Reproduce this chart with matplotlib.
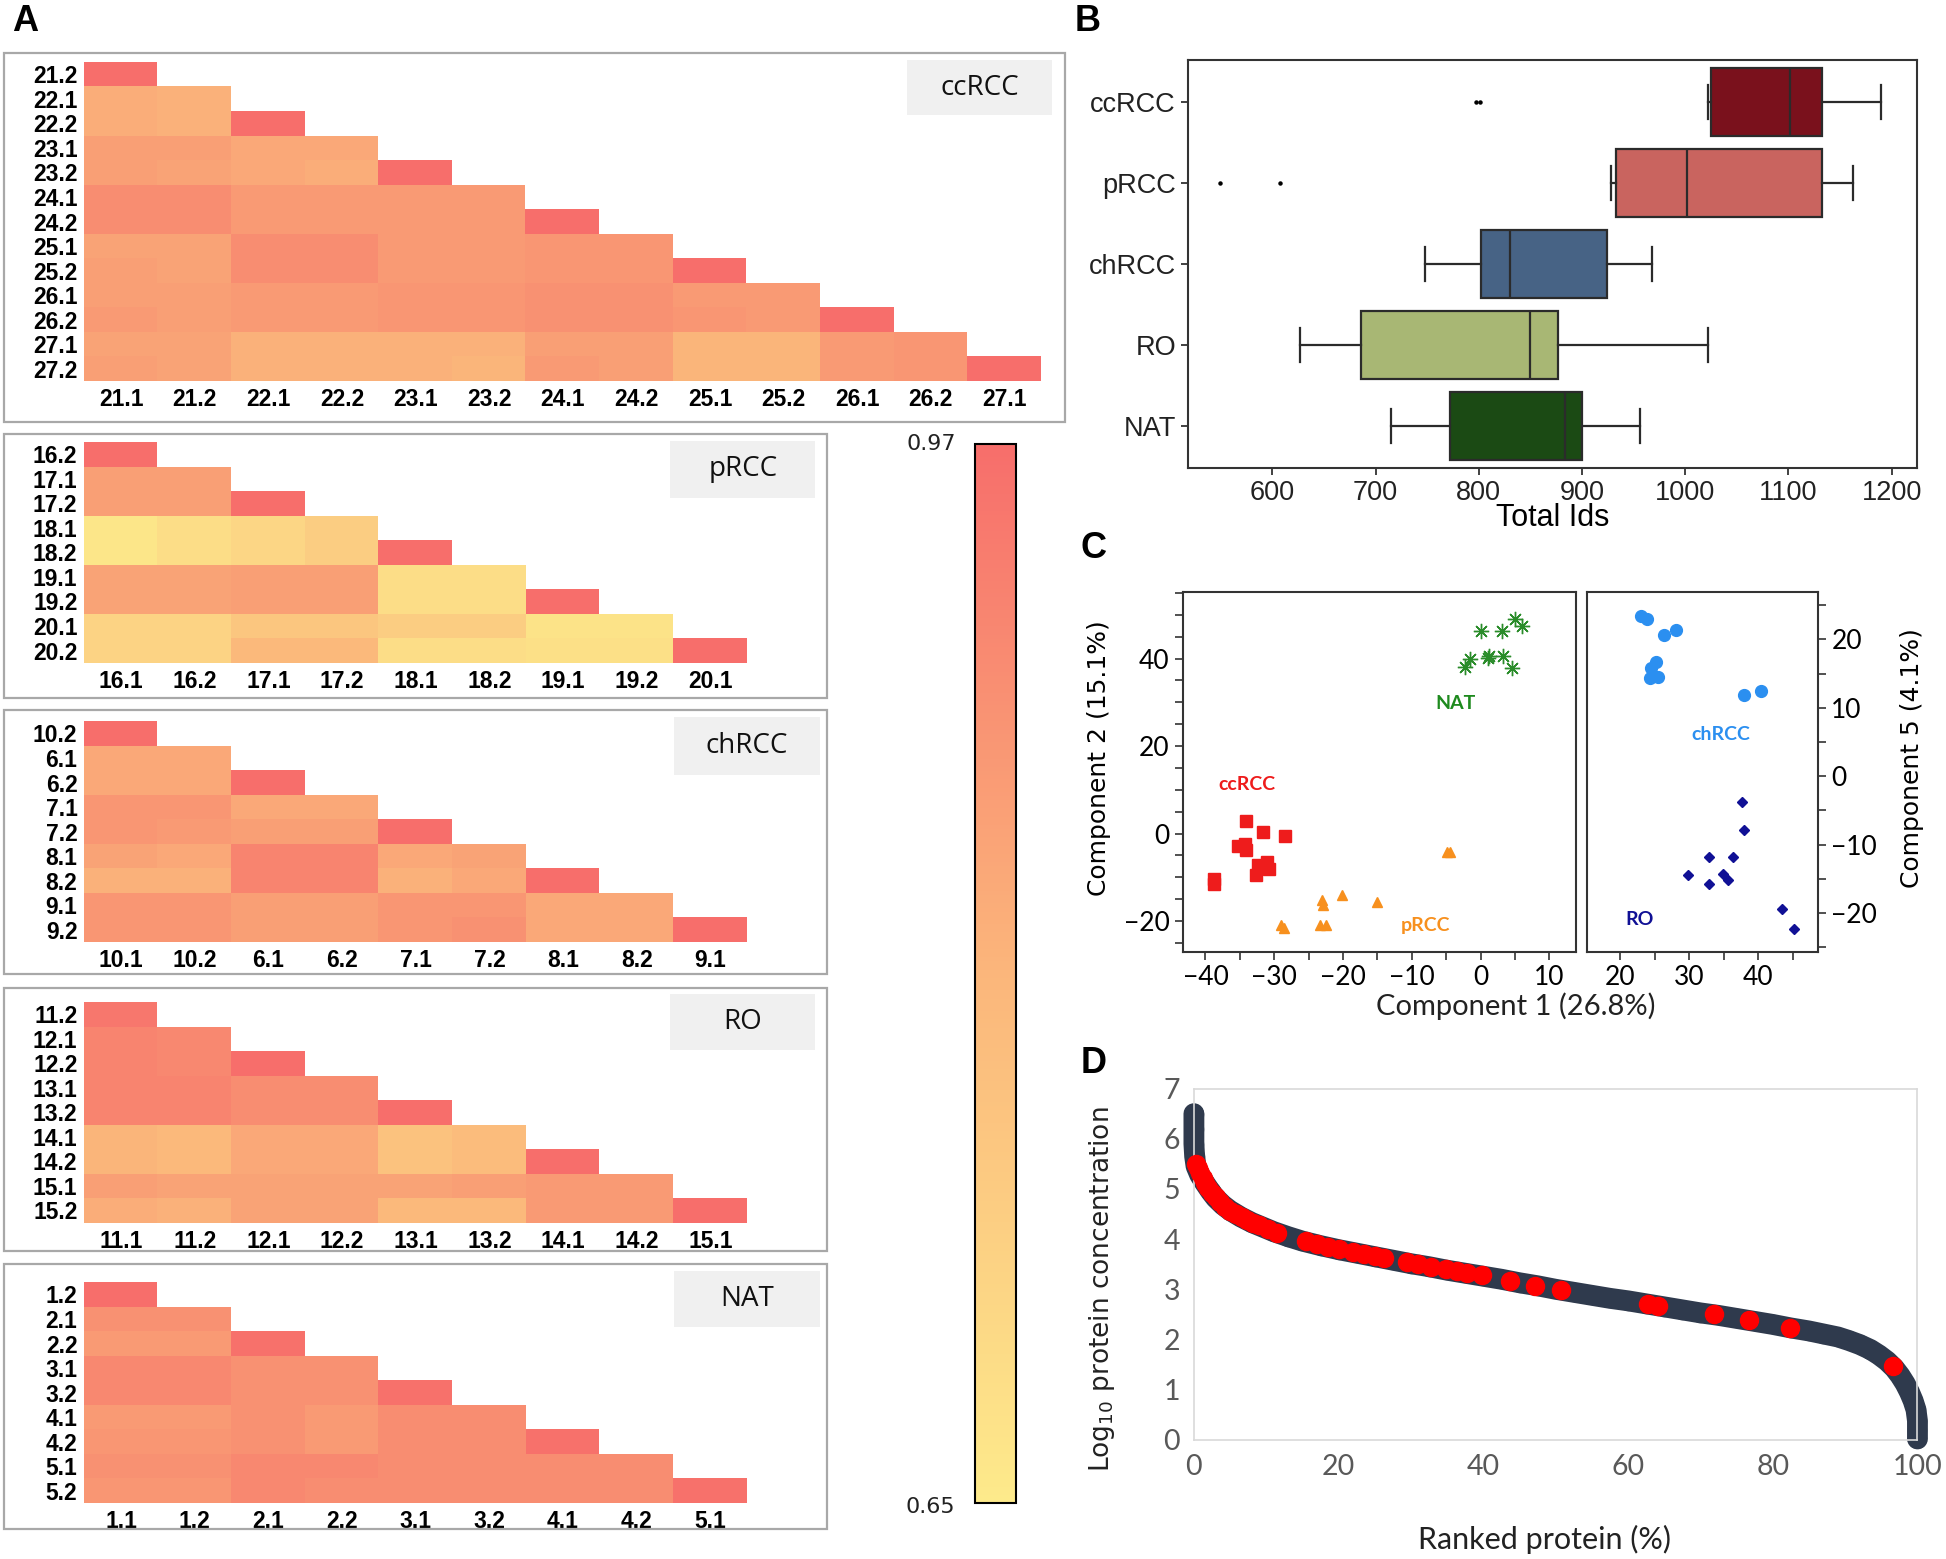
import numpy as np
import matplotlib.pyplot as plt
from matplotlib.colors import LinearSegmentedColormap, Normalize
from matplotlib.patches import Rectangle
from matplotlib.cm import ScalarMappable
from matplotlib.ticker import MultipleLocator

# ---------------- panel A: replicate correlation heatmaps ----------------
cc_rows = ["21.2", "22.1", "22.2", "23.1", "23.2", "24.1", "24.2",
           "25.1", "25.2", "26.1", "26.2", "27.1", "27.2"]
cc_cols = ["21.1", "21.2", "22.1", "22.2", "23.1", "23.2", "24.1",
           "24.2", "25.1", "25.2", "26.1", "26.2", "27.1"]
cc_vals = [
    [0.97],
    [0.83, 0.82],
    [0.83, 0.82, 0.97],
    [0.86, 0.86, 0.84, 0.84],
    [0.86, 0.85, 0.84, 0.83, 0.97],
    [0.90, 0.90, 0.87, 0.87, 0.87, 0.87],
    [0.90, 0.90, 0.87, 0.87, 0.87, 0.87, 0.97],
    [0.85, 0.85, 0.90, 0.90, 0.87, 0.87, 0.88, 0.88],
    [0.86, 0.85, 0.90, 0.90, 0.87, 0.87, 0.88, 0.88, 0.97],
    [0.86, 0.86, 0.87, 0.87, 0.88, 0.88, 0.89, 0.89, 0.87, 0.87],
    [0.87, 0.86, 0.87, 0.87, 0.88, 0.88, 0.89, 0.89, 0.88, 0.87, 0.97],
    [0.85, 0.85, 0.82, 0.82, 0.82, 0.82, 0.86, 0.86, 0.81, 0.81, 0.87, 0.88],
    [0.86, 0.85, 0.82, 0.82, 0.82, 0.81, 0.87, 0.86, 0.81, 0.81, 0.87, 0.88, 0.97],
]

p_rows = ["16.2", "17.1", "17.2", "18.1", "18.2", "19.1", "19.2", "20.1", "20.2"]
p_cols = ["16.1", "16.2", "17.1", "17.2", "18.1", "18.2", "19.1", "19.2", "20.1"]
p_vals = [
    [0.97],
    [0.86, 0.86],
    [0.86, 0.86, 0.97],
    [0.66, 0.69, 0.71, 0.74],
    [0.66, 0.69, 0.71, 0.74, 0.97],
    [0.85, 0.85, 0.86, 0.86, 0.69, 0.69],
    [0.85, 0.85, 0.86, 0.86, 0.69, 0.69, 0.97],
    [0.72, 0.72, 0.76, 0.76, 0.74, 0.74, 0.67, 0.67],
    [0.72, 0.72, 0.80, 0.80, 0.69, 0.69, 0.68, 0.68, 0.97],
]

ch_rows = ["10.2", "6.1", "6.2", "7.1", "7.2", "8.1", "8.2", "9.1", "9.2"]
ch_cols = ["10.1", "10.2", "6.1", "6.2", "7.1", "7.2", "8.1", "8.2", "9.1"]
ch_vals = [
    [0.97],
    [0.84, 0.84],
    [0.84, 0.84, 0.97],
    [0.88, 0.88, 0.84, 0.84],
    [0.88, 0.87, 0.86, 0.86, 0.97],
    [0.85, 0.84, 0.92, 0.92, 0.84, 0.85],
    [0.82, 0.82, 0.92, 0.92, 0.82, 0.84, 0.97],
    [0.88, 0.88, 0.86, 0.86, 0.88, 0.88, 0.84, 0.84],
    [0.88, 0.88, 0.86, 0.86, 0.88, 0.89, 0.84, 0.84, 0.97],
]

ro_rows = ["11.2", "12.1", "12.2", "13.1", "13.2", "14.1", "14.2", "15.1", "15.2"]
ro_cols = ["11.1", "11.2", "12.1", "12.2", "13.1", "13.2", "14.1", "14.2", "15.1"]
ro_vals = [
    [0.95],
    [0.92, 0.91],
    [0.92, 0.91, 0.97],
    [0.92, 0.92, 0.90, 0.90],
    [0.92, 0.92, 0.90, 0.90, 0.97],
    [0.81, 0.80, 0.84, 0.84, 0.77, 0.79],
    [0.81, 0.80, 0.84, 0.84, 0.77, 0.79, 0.97],
    [0.86, 0.85, 0.85, 0.85, 0.85, 0.86, 0.87, 0.87],
    [0.83, 0.82, 0.85, 0.85, 0.80, 0.80, 0.87, 0.87, 0.97],
]

nat_rows = ["1.2", "2.1", "2.2", "3.1", "3.2", "4.1", "4.2", "5.1", "5.2"]
nat_cols = ["1.1", "1.2", "2.1", "2.2", "3.1", "3.2", "4.1", "4.2", "5.1"]
nat_vals = [
    [0.97],
    [0.89, 0.89],
    [0.87, 0.87, 0.96],
    [0.91, 0.91, 0.89, 0.89],
    [0.91, 0.91, 0.89, 0.89, 0.96],
    [0.87, 0.87, 0.89, 0.87, 0.90, 0.90],
    [0.88, 0.88, 0.89, 0.87, 0.90, 0.90, 0.96],
    [0.89, 0.89, 0.91, 0.91, 0.90, 0.90, 0.90, 0.90],
    [0.88, 0.88, 0.91, 0.90, 0.90, 0.90, 0.90, 0.90, 0.96],
]
cbar_min, cbar_max = 0.65, 0.97

# ---------------- panel B: total IDs per group ----------------
b_groups = ["ccRCC", "pRCC", "chRCC", "RO", "NAT"]
b_whislo = [1022, 928, 748, 627, 715]
b_q1 = [1025, 933, 802, 686, 772]
b_med = [1102, 1002, 830, 850, 884]
b_q3 = [1133, 1133, 924, 877, 900]
b_whishi = [1190, 1163, 968, 1022, 956]
b_fliers = [[797, 801], [549, 607], [], [], []]
b_colors = ["#7A111C", "#C9645F", "#476385", "#A8B774", "#1B4A14"]

# ---------------- panel C: PCA scores ----------------
cc_x = [-34.1, -31.7, -28.4, -35.2, -34.2, -34.1, -32.4, -31.1, -30.8, -32.7, -38.8, -38.8]
cc_y = [2.8, 0.3, -0.6, -2.9, -2.4, -3.7, -7.1, -6.5, -8.1, -9.6, -10.4, -11.6]
pr_x = [-4.9, -4.4, -20.2, -23.1, -22.9, -15.1, -29.0, -28.6, -23.3, -22.5]
pr_y = [-4.3, -4.3, -14.0, -15.2, -16.4, -15.6, -20.9, -21.7, -20.9, -20.9]
na_x = [0.0, 3.1, 5.0, 6.0, -1.6, -2.2, 1.1, 1.3, 3.2, 4.6]
na_y = [46.3, 46.2, 49.0, 47.5, 40.0, 38.1, 40.2, 40.6, 40.5, 37.8]
chc_x = [23.0, 23.9, 26.3, 28.1, 25.2, 24.4, 24.3, 25.5, 38.0, 40.4]
chc_y = [23.4, 23.0, 20.7, 21.4, 16.7, 15.8, 14.3, 14.5, 11.9, 12.4]
roc_x = [37.6, 38.0, 32.9, 36.3, 29.8, 34.9, 32.9, 35.6, 43.4, 45.2]
roc_y = [-3.8, -7.9, -11.8, -11.8, -14.4, -14.3, -15.7, -15.2, -19.4, -22.3]

# ---------------- panel D: ranked protein concentration ----------------
all_x = [0, 0, 0, 0.1, 0.3, 0.8, 1.5, 2.3, 3.0, 4.0, 5.0, 6.5, 8.0, 9.5, 11, 13, 15,
         17.5, 20, 22.5, 25, 27.5, 30, 32.5, 35, 37.5, 40, 42.5, 45, 47.5, 50, 52.5,
         55, 57.5, 60, 62.5, 65, 67.5, 70, 72.5, 75, 77.5, 80, 82.5, 85, 87, 89,
         90.5, 92, 93.5, 94.7, 95.8, 96.8, 97.6, 98.3, 98.9, 99.4, 99.8, 100, 100, 100]
all_y = [6.5, 6.2, 5.9, 5.65, 5.45, 5.28, 5.12, 4.95, 4.82, 4.68, 4.57, 4.44, 4.33,
         4.24, 4.15, 4.05, 3.96, 3.87, 3.79, 3.72, 3.65, 3.58, 3.51, 3.45, 3.38, 3.32,
         3.26, 3.2, 3.13, 3.07, 3.0, 2.94, 2.88, 2.82, 2.77, 2.71, 2.65, 2.59, 2.53,
         2.48, 2.42, 2.36, 2.3, 2.23, 2.17, 2.11, 2.05, 1.98, 1.9, 1.8, 1.69, 1.57,
         1.43, 1.28, 1.12, 0.95, 0.78, 0.6, 0.38, 0.2, 0.02]
red_x = [0.3, 0.5, 0.8, 1.2, 1.6, 2.0, 2.5, 3.0, 3.6, 4.3, 5.0, 5.8, 6.6, 7.4, 8.2,
         9.0, 10.2, 11.5, 15.5, 17.0, 18.5, 20.0, 22.0, 23.5, 25.0, 26.3, 29.5, 31.0,
         32.8, 34.8, 36.3, 37.8, 39.8, 43.7, 47.2, 50.8, 62.8, 64.2, 71.9, 76.7, 82.4,
         96.6]
red_y = [5.5, 5.42, 5.32, 5.21, 5.11, 5.02, 4.92, 4.83, 4.73, 4.64, 4.57, 4.5, 4.44,
         4.39, 4.33, 4.28, 4.2, 4.13, 3.96, 3.9, 3.84, 3.8, 3.74, 3.7, 3.66, 3.63, 3.54,
         3.5, 3.45, 3.4, 3.37, 3.33, 3.28, 3.17, 3.06, 2.99, 2.7, 2.67, 2.5, 2.38, 2.23,
         1.47]

# layout helpers: positions are given in a 1568 x 1256 grid
W, H = 1568, 1256


def rect(x0, y0, x1, y1):
    return [x0 / W, 1 - y1 / H, (x1 - x0) / W, (y1 - y0) / H]


def fx(x):
    return x / W


def fy(y):
    return 1 - y / H


fig = plt.figure(figsize=(19.46, 15.59), dpi=100)

cmap = LinearSegmentedColormap.from_list(
    "corr", [(0.0, "#FDEA8B"), (0.5, "#FBB67B"), (1.0, "#F76E6B")])
cmap.set_bad((1, 1, 1, 0))
norm = Normalize(cbar_min, cbar_max)

bold_tick = dict(family="Liberation Sans", weight="bold", size=16.5)


def heat(rows, cols, vals, outer, cells, tag, tagbox):
    fig.add_artist(Rectangle((fx(outer[0]), fy(outer[3])),
                             (outer[2] - outer[0]) / W, (outer[3] - outer[1]) / H,
                             transform=fig.transFigure, fill=False,
                             edgecolor="#A8A8A8", lw=1.6))
    fig.add_artist(Rectangle((fx(tagbox[0]), fy(tagbox[3])),
                             (tagbox[2] - tagbox[0]) / W, (tagbox[3] - tagbox[1]) / H,
                             transform=fig.transFigure, facecolor="#F0F0F0",
                             edgecolor="none"))
    fig.text(fx((tagbox[0] + tagbox[2]) / 2), fy((tagbox[1] + tagbox[3]) / 2), tag,
             ha="center", va="center", family="Open Sans", fontsize=20, color="#111111")
    m = np.full((len(rows), len(cols)), np.nan)
    for i, r in enumerate(vals):
        m[i, :len(r)] = r
    ax = fig.add_axes(rect(*cells))
    ax.imshow(m, cmap=cmap, norm=norm, aspect="auto", interpolation="nearest")
    ax.set_xticks(range(len(cols)))
    ax.set_xticklabels(cols, **bold_tick)
    ax.set_yticks(range(len(rows)))
    ax.set_yticklabels(rows, **bold_tick)
    ax.tick_params(length=0, pad=5)
    for s in ax.spines.values():
        s.set_visible(False)


heat(cc_rows, cc_cols, cc_vals, (3, 43, 858, 340), (68, 50, 839, 307), "ccRCC", (731, 48, 848, 93))
heat(p_rows, p_cols, p_vals, (3, 350, 666, 562), (68, 356, 602, 534), "pRCC", (540, 355, 657, 401))
heat(ch_rows, ch_cols, ch_vals, (3, 572, 666, 785), (68, 581, 602, 759), "chRCC", (543, 578, 661, 624))
heat(ro_rows, ro_cols, ro_vals, (3, 796, 666, 1008), (68, 807, 602, 985), "RO", (540, 801, 657, 846))
heat(nat_rows, nat_cols, nat_vals, (3, 1018, 666, 1232), (68, 1033, 602, 1211), "NAT", (543, 1024, 661, 1069))

cax = fig.add_axes(rect(786, 358, 819, 1211))
cb = fig.colorbar(ScalarMappable(norm=norm, cmap=cmap), cax=cax)
cb.set_ticks([])
cb.outline.set_linewidth(1.5)
cb.outline.set_edgecolor("black")
fig.text(fx(750), fy(358), f"{cbar_max:.2f}", ha="center", va="center",
         family="DejaVu Sans", fontsize=16, color="#222222")
fig.text(fx(750), fy(1214), f"{cbar_min:.2f}", ha="center", va="center",
         family="DejaVu Sans", fontsize=16, color="#222222")

# ---------------- panel B ----------------
axb = fig.add_axes(rect(957, 48, 1545, 377))
stats = []
for i, g in enumerate(b_groups):
    stats.append(dict(label=g, whislo=b_whislo[i], q1=b_q1[i], med=b_med[i],
                      q3=b_q3[i], whishi=b_whishi[i], fliers=b_fliers[i]))
bp = axb.bxp(stats, positions=range(len(b_groups)), vert=False, widths=0.84,
             capwidths=0.42, patch_artist=True,
             boxprops=dict(edgecolor="#2B2B2B", lw=1.6),
             medianprops=dict(color="#2B2B2B", lw=1.6),
             whiskerprops=dict(color="#2B2B2B", lw=1.6),
             capprops=dict(color="#2B2B2B", lw=1.6),
             flierprops=dict(marker="o", markersize=2.2, markerfacecolor="black",
                             markeredgecolor="black"))
for patch, c in zip(bp["boxes"], b_colors):
    patch.set_facecolor(c)
axb.set_ylim(4.52, -0.52)
axb.set_xlim(518, 1225)
axb.set_xticks([600, 700, 800, 900, 1000, 1100, 1200])
axb.set_xlabel("Total Ids", family="Liberation Sans", fontsize=22, labelpad=-2)
axb.tick_params(labelsize=19.5, length=5, width=1.3, color="#333333")
for lab in axb.get_xticklabels() + axb.get_yticklabels():
    lab.set_family("Liberation Sans")
    lab.set_color("#222222")
for s in axb.spines.values():
    s.set_color("#333333")
    s.set_linewidth(1.5)

# ---------------- panel C ----------------
axl = fig.add_axes(rect(953, 477, 1270, 767))
axr = fig.add_axes(rect(1279, 477, 1465, 767))
axl.plot(cc_x, cc_y, "s", color="#EE1C1C", ms=8)
axl.plot(pr_x, pr_y, "^", color="#F7901E", ms=7)
axl.plot(na_x, na_y, marker=(8, 2, 0), ls="none", color="#2A8C2A", ms=11, mew=1.0)
axr.plot(chc_x, chc_y, "o", color="#2B8FF0", ms=8.5)
axr.plot(roc_x, roc_y, "D", color="#101095", ms=5.5)
for ax in (axl, axr):
    ax.tick_params(which="both", direction="out", length=6, width=1.2,
                   color="#333333", labelsize=19)
    for s in ax.spines.values():
        s.set_color("#333333")
        s.set_linewidth(1.5)
axl.set_xlim(-43.3, 13.9)
axl.set_ylim(-27.1, 55.2)
axl.xaxis.set_major_locator(MultipleLocator(10))
axl.xaxis.set_minor_locator(MultipleLocator(5))
axl.yaxis.set_major_locator(MultipleLocator(20))
axl.yaxis.set_minor_locator(MultipleLocator(5))
axl.set_ylabel("Component 2 (15.1%)", family="DejaVu Sans", fontsize=18)
axl.yaxis.set_label_coords(-0.183, 0.538)
axr.set_xlim(15.2, 48.7)
axr.set_ylim(-25.7, 26.9)
axr.xaxis.set_major_locator(MultipleLocator(10))
axr.xaxis.set_minor_locator(MultipleLocator(5))
axr.yaxis.set_major_locator(MultipleLocator(10))
axr.yaxis.set_minor_locator(MultipleLocator(5))
axr.yaxis.tick_right()
axr.yaxis.set_label_position("right")
axr.set_ylabel("Component 5 (4.1%)", family="DejaVu Sans", fontsize=18, rotation=90)
axr.yaxis.set_label_coords(1.355, 0.538)
for ax in (axl, axr):
    for lab in ax.get_xticklabels() + ax.get_yticklabels():
        lab.set_family("Lato")
axl.text(-3.7, 29.7, "NAT", color="#1E8A1E", fontsize=14, weight="bold",
         family="Lato", ha="center", va="center")
axl.text(-34, 11.3, "ccRCC", color="#EE1C1C", fontsize=14, weight="bold",
         family="Lato", ha="center", va="center")
axl.text(-8.0, -21.1, "pRCC", color="#F7901E", fontsize=14, weight="bold",
         family="Lato", ha="center", va="center")
axr.text(34.5, 6.1, "chRCC", color="#2B8FF0", fontsize=14, weight="bold",
         family="Lato", ha="center", va="center")
axr.text(22.8, -21.0, "RO", color="#101095", fontsize=14, weight="bold",
         family="Lato", ha="center", va="center")
fig.text(fx(1221), fy(811), "Component 1 (26.8%)", ha="center", va="center",
         family="Lato", fontsize=21, color="#222222")

# ---------------- panel D ----------------
axd = fig.add_axes(rect(962, 877, 1545, 1160))
axd.plot(all_x, all_y, "-o", color="#2F3A4D", lw=15, ms=13,
         solid_capstyle="round", clip_on=False, zorder=2)
axd.plot(red_x, red_y, "o", color="#FF0000", ms=13, clip_on=False, zorder=3)
axd.set_xlim(0, 100)
axd.set_ylim(0, 7)
axd.set_xticks([0, 20, 40, 60, 80, 100])
axd.set_yticks(range(8))
axd.tick_params(length=0, labelsize=20.5, labelcolor="#595959", pad=10)
for lab in axd.get_xticklabels() + axd.get_yticklabels():
    lab.set_family("Lato")
for s in axd.spines.values():
    s.set_color("#D9D9D9")
    s.set_linewidth(1.2)
axd.set_ylabel("Log$_{10}$ protein concentration", family="DejaVu Sans",
               fontsize=19, color="#222222", va="center")
axd.yaxis.set_label_coords(-0.127, 0.43)
axd.set_xlabel("Ranked protein (%)", family="Lato", fontsize=22,
               color="#222222", va="center")
axd.xaxis.set_label_coords(0.484, -0.283)

# panel letters
for letter, (x, y) in zip("ABCD", [(20, 17), (876, 17), (881, 442), (881, 857)]):
    fig.text(fx(x), fy(y), letter, ha="center", va="center",
             family="Liberation Sans", weight="bold", fontsize=26)

fig.savefig("out.png", dpi=100)
